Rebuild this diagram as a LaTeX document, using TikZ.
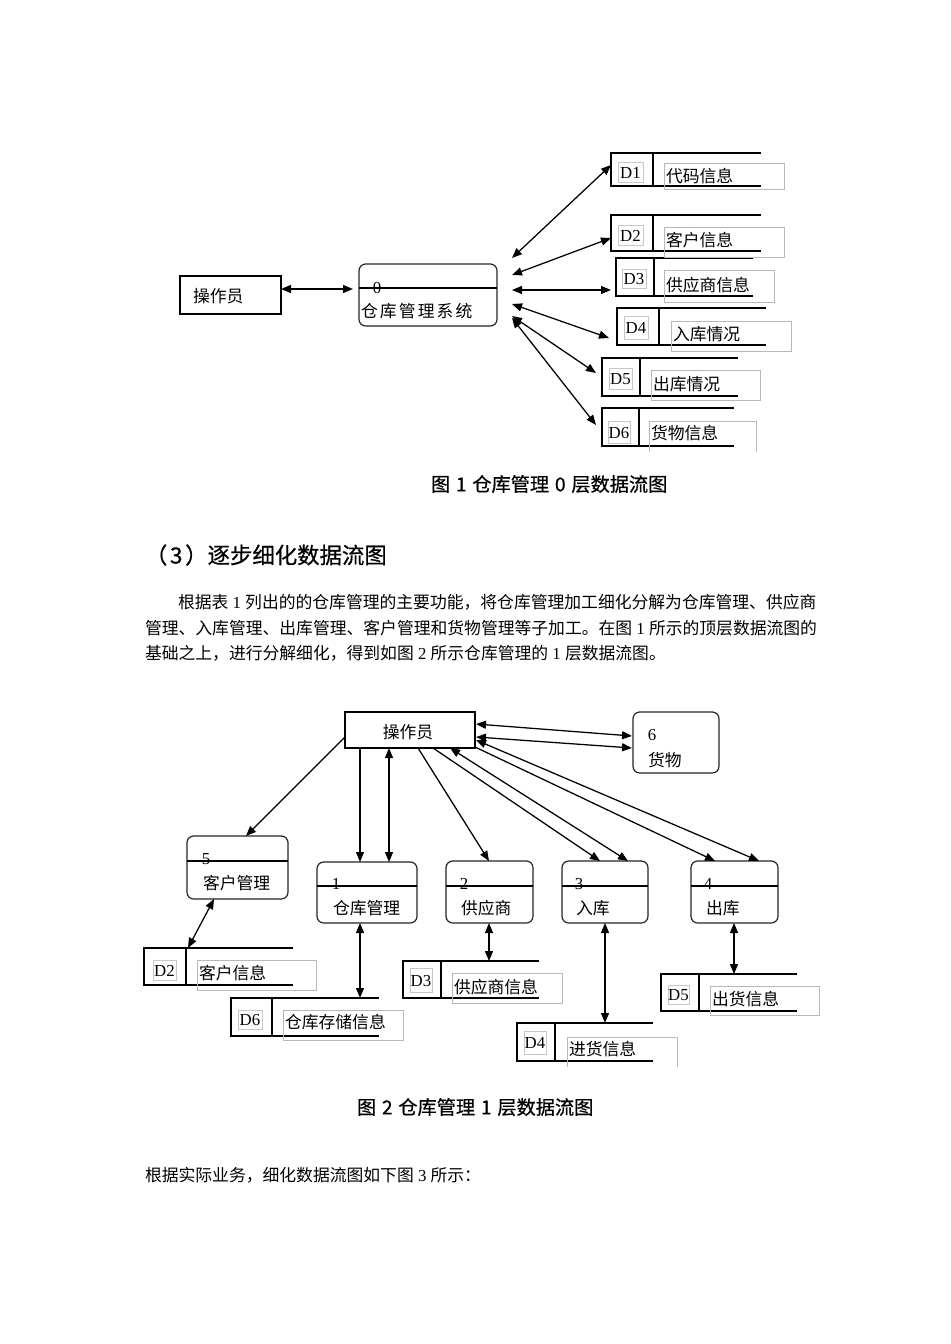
\documentclass[tikz,border=0pt]{standalone}
\usepackage{fontspec}
\setmainfont{Liberation Serif}
\newfontfamily\cjk{Noto Sans CJK SC}
\newfontfamily\cjkhei{Noto Sans CJK SC}[FakeBold=0.6]
\XeTeXlinebreaklocale "zh"
\XeTeXlinebreakskip=0pt plus 3pt
\usetikzlibrary{calc,arrows.meta}
\newcommand{\qp}{0.75pt}
\newcommand{\cjstretch}{\XeTeXinterchartokenstate=1
  \XeTeXinterchartoks 1 1 = {\hskip 0pt plus 3pt}%
  \XeTeXinterchartoks 1 3 = {\hskip 0pt plus 3pt}%
  \XeTeXinterchartoks 3 1 = {\hskip 0pt plus 3pt}%
  \XeTeXinterchartoks 1 2 = {\hskip 0pt plus 3pt}%
  \XeTeXinterchartoks 2 1 = {\hskip 0pt plus 3pt}}
% data store: name, x, y, w, h, divider offset
\newcommand{\dstore}[6]{%
  \node[sbody, minimum width=#4*\qp, minimum height=#5*\qp] (#1) at (#2,#3) {};
  \draw[sline] (#1.north east) -- (#1.north west) -- (#1.south west) -- (#1.south east);
  \draw[sline] ($(#1.north west)+(#6,0)$) -- ($(#1.south west)+(#6,0)$);}
% store label: name, x, y, w, h, text
\newcommand{\dlab}[6]{%
  \node[lbox, minimum width=#4*\qp, minimum height=#5*\qp] (#1) at (#2,#3) {};
  \node[numtxt] (#1t) at (#1.center) {#6};}
% store text frame: name, x, y, w, h, text y, text
\newcommand{\dtext}[7]{%
  \node[tframe, minimum width=#4*\qp, minimum height=#5*\qp] (#1) at (#2,#3) {};
  \node[cjtxt, anchor=west] (#1t) at (#2+2,#6) {#7};}
% frame open at the bottom
\newcommand{\dtextopen}[7]{%
  \node[sbody, minimum width=#4*\qp, minimum height=#5*\qp] (#1) at (#2,#3) {};
  \draw[tline] (#1.south west) -- (#1.north west) -- (#1.north east) -- (#1.south east);
  \node[cjtxt, anchor=west] (#1t) at (#2+2,#6) {#7};}
\begin{document}
\begin{tikzpicture}[x=0.75pt,y=-0.75pt,
  every node/.style={inner sep=0pt,outer sep=0pt},
  cjtxt/.style={font=\cjk\fontsize{12.6pt}{15pt}\selectfont, text height=11.1pt, text depth=1.5pt},
  numtxt/.style={font=\fontsize{12.6pt}{15pt}\selectfont, text height=11.1pt, text depth=1.5pt},
  procbox/.style={draw=black!85, line width=0.9pt, rounded corners=5pt, anchor=north west},
  extbox/.style={draw=black, line width=0.8pt, anchor=north west},
  sbody/.style={anchor=north west},
  sline/.style={line width=0.85pt},
  lbox/.style={draw=black!22, line width=0.4pt, anchor=north west},
  tframe/.style={draw=black!28, line width=0.5pt, anchor=north west},
  tline/.style={draw=black!28, line width=0.5pt},
  divline/.style={line width=0.8pt},
  flowarr/.style={line width=0.95pt, -{Triangle[length=7.5pt,width=6pt]}},
  bflowarr/.style={line width=0.95pt, {Triangle[length=7.5pt,width=6pt]}-{Triangle[length=7.5pt,width=6pt]}},
  figcap/.style={font=\cjkhei\fontsize{14.4pt}{17pt}\selectfont, anchor=west, text height=12.7pt, text depth=1.7pt},
  headtxt/.style={font=\cjkhei\fontsize{16.8pt}{20pt}\selectfont, anchor=west, text height=14.8pt, text depth=2pt},
  bodytxt/.style={font=\cjk\fontsize{12.6pt}{15pt}\selectfont\cjstretch, anchor=west, text height=11.1pt, text depth=1.5pt},
]
\fill[white] (0,0) rectangle (950,1344);
\useasboundingbox (0,0) rectangle (950,1344);

% ================= Figure 1 =================
\node[extbox, minimum width=101*\qp, minimum height=38*\qp] (op1) at (180,276) {};
\node[cjtxt, anchor=west] (op1t) at (193,296) {操作员};
\node[procbox, minimum width=138*\qp, minimum height=62*\qp] (p0) at (359,264) {};
\draw[divline] ($(p0.north west)+(0,24)$) -- ($(p0.north east)+(0,24)$);
\node[numtxt] (p0n) at (377,287) {0};
\node[cjtxt, anchor=west] (p0t) at (361,311) {仓\kern1.6pt 库\kern1.6pt 管\kern1.6pt 理\kern1.6pt 系\kern1.6pt 统};

\dstore{d1}{611}{153}{150}{33}{42}
\dstore{d2}{611}{215}{150}{36}{42}
\dstore{d3}{616}{258}{137}{38}{38}
\dstore{d4}{617}{308}{149}{37}{42}
\dstore{d5}{602}{358}{136}{38}{38}
\dstore{d6}{602}{408}{132}{38}{37}

\dlab{l1}{618}{162}{25}{20}{D1}
\dlab{l2}{618}{225}{25}{20}{D2}
\dlab{l3}{622}{269}{24}{19}{D3}
\dlab{l4}{624}{316}{24}{23}{D4}
\dlab{l5}{609}{368}{23}{21}{D5}
\dlab{l6}{608}{421}{22}{22}{D6}

\dtext{t1}{664}{163}{120}{26}{176}{代码信息}
\dtext{t2}{664}{227}{120}{30}{240}{客户信息}
\dtext{t3}{664}{270}{110}{32}{285}{供应商信息}
\dtext{t4}{671}{321}{120}{30}{334}{入库情况}
\dtext{t5}{651}{370}{109}{30}{384}{出库情况}
\dtextopen{t6}{649}{421}{107}{31}{433}{货物信息}

\draw[bflowarr] ($(op1.east)+(0,-6)$) -- ($(p0.west)+(-6,-6)$);
\draw[bflowarr] ($(p0.north east)+(15,-6)$) -- ($(d1.north west)+(0,12)$);
\draw[bflowarr] ($(p0.north east)+(15,11)$) -- ($(d2.north west)+(0,23)$);
\draw[bflowarr] ($(p0.north east)+(15,26)$) -- ($(d3.north west)+(-5,32)$);
\draw[bflowarr] ($(p0.north east)+(15,40)$) -- ($(d4.north west)+(-8,30)$);
\draw[bflowarr] ($(p0.north east)+(15,52)$) -- ($(d5.north west)+(-6,15)$);
\draw[bflowarr] ($(p0.north east)+(15,54)$) -- ($(d6.north west)+(-6,17)$);

\node[figcap] (cap1) at (431,484) {图\hspace{0.3em}1\hspace{0.3em}仓库管理\hspace{0.3em}0\hspace{0.3em}层数据流图};

% ================= Text =================
\node[headtxt] (hd) at (145,555) {（\hspace{0.12em}3\hspace{0.12em}）逐步细化数据流图};
\node[bodytxt] (bl1) at (178,602) {\hbox to 471pt{根据表\hspace{0.25em}{\rmfamily 1}\hspace{0.25em}列出的的仓库管理的主要功能，将仓库管理加工细化分解为仓库管理、供应商}};
\node[bodytxt] (bl2) at (145,628) {\hbox to 495.75pt{管理、入库管理、出库管理、客户管理和货物管理等子加工。在图\hspace{0.25em}{\rmfamily 1}\hspace{0.25em}所示的顶层数据流图的}};
\node[bodytxt] (bl3) at (145,653) {基础之上，进行分解细化，得到如图\hspace{0.25em}{\rmfamily 2}\hspace{0.25em}所示仓库管理的\hspace{0.25em}{\rmfamily 1}\hspace{0.25em}层数据流图。};

% ================= Figure 2 =================
\node[extbox, minimum width=130*\qp, minimum height=36*\qp] (op2) at (345,712) {};
\node[cjtxt] (op2t) at (408,732) {操作员};

\node[procbox, minimum width=86*\qp, minimum height=61*\qp] (p6) at (633,712) {};
\node[numtxt] (p6n) at (652,734) {6};
\node[cjtxt, anchor=west] (p6t) at (648,760) {货物};

\node[procbox, minimum width=101*\qp, minimum height=63*\qp] (p5) at (187,836) {};
\draw[divline] ($(p5.north west)+(0,25)$) -- ($(p5.north east)+(0,25)$);
\node[numtxt] (p5n) at (206,858) {5};
\node[cjtxt, anchor=west] (p5t) at (203,883) {客户管理};

\node[procbox, minimum width=100*\qp, minimum height=61*\qp] (p1) at (317,862) {};
\draw[divline] ($(p1.north west)+(0,24)$) -- ($(p1.north east)+(0,24)$);
\node[numtxt] (p1n) at (336,883) {1};
\node[cjtxt, anchor=west] (p1t) at (333,908) {仓库管理};

\node[procbox, minimum width=87*\qp, minimum height=62*\qp] (p2) at (446,861) {};
\draw[divline] ($(p2.north west)+(0,25)$) -- ($(p2.north east)+(0,25)$);
\node[numtxt] (p2n) at (464,883) {2};
\node[cjtxt, anchor=west] (p2t) at (461,908) {供应商};

\node[procbox, minimum width=86*\qp, minimum height=62*\qp] (p3) at (562,861) {};
\draw[divline] ($(p3.north west)+(0,25)$) -- ($(p3.north east)+(0,25)$);
\node[numtxt] (p3n) at (579,883) {3};
\node[cjtxt, anchor=west] (p3t) at (576,908) {入库};

\node[procbox, minimum width=87*\qp, minimum height=62*\qp] (p4) at (691,861) {};
\draw[divline] ($(p4.north west)+(0,25)$) -- ($(p4.north east)+(0,25)$);
\node[numtxt] (p4n) at (708,883) {4};
\node[cjtxt, anchor=west] (p4t) at (706,908) {出库};

\dstore{b2}{144}{948}{149}{37}{42}
\dstore{b6}{231}{998}{148}{38}{41}
\dstore{b3}{403}{961}{136}{37}{38}
\dstore{b5}{661}{974}{136}{37}{38}
\begin{scope}[sline/.style={line width=1.3pt}]
\dstore{b4}{517}{1023}{136}{38}{38}
\end{scope}

\dlab{bl2l}{153}{960}{23}{20}{D2}
\dlab{bl6l}{238}{1010}{24}{19}{D6}
\dlab{bl3l}{410}{968}{22}{24}{D3}
\dlab{bl4l}{524}{1031}{22}{23}{D4}
\dlab{bl5l}{668}{985}{21}{19}{D5}

\dtext{bt2}{197}{960}{119}{30}{973}{客户信息}
\dtext{bt6}{283}{1010}{120}{30}{1022}{仓库存储信息}
\dtext{bt3}{452}{973}{110}{30}{987}{供应商信息}
\dtextopen{bt4}{567}{1037}{110}{30}{1049}{进货信息}
\dtext{bt5}{710}{986}{109}{29}{999}{出货信息}

\draw[flowarr] ($(op2.north west)+(0,25)$) -- ($(p5.north west)+(59,0)$);
\draw[flowarr] ($(op2.south west)+(15,0)$) -- ($(p1.north west)+(43,0)$);
\draw[bflowarr] ($(op2.south west)+(44,0)$) -- ($(p1.north west)+(72,0)$);
\draw[flowarr] ($(op2.south west)+(73,0)$) -- ($(p2.north west)+(43,0)$);
\draw[flowarr] ($(op2.south west)+(88,0)$) -- ($(p3.north west)+(38,0)$);
\draw[bflowarr] ($(op2.south west)+(105,0)$) -- ($(p3.north west)+(66,0)$);
\draw[flowarr] ($(op2.south east)+(0,-1)$) -- ($(p4.north west)+(24,0)$);
\draw[bflowarr] ($(op2.south east)+(1,-8)$) -- ($(p4.north west)+(68,0)$);
\draw[bflowarr] ($(op2.north east)+(1,12)$) -- ($(p6.north west)+(-1,24)$);
\draw[bflowarr] ($(op2.north east)+(1,25)$) -- ($(p6.north west)+(-1,36)$);
\draw[bflowarr] ($(p5.south west)+(27,0)$) -- ($(b2.north west)+(44,0)$);
\draw[bflowarr] ($(p1.south west)+(43,0)$) -- ($(b6.north west)+(129,0)$);
\draw[bflowarr] ($(p2.south west)+(43,0)$) -- ($(b3.north west)+(86,0)$);
\draw[bflowarr] ($(p3.south west)+(43,0)$) -- ($(b4.north west)+(88,0)$);
\draw[bflowarr] ($(p4.south west)+(43,0)$) -- ($(b5.north west)+(73,0)$);

\node[figcap] (cap2) at (357,1107) {图\hspace{0.3em}2\hspace{0.3em}仓库管理\hspace{0.3em}1\hspace{0.3em}层数据流图};

\node[bodytxt] (last) at (145,1175) {根据实际业务，细化数据流图如下图\hspace{0.25em}{\rmfamily 3}\hspace{0.25em}所示：};
\end{tikzpicture}
\end{document}
